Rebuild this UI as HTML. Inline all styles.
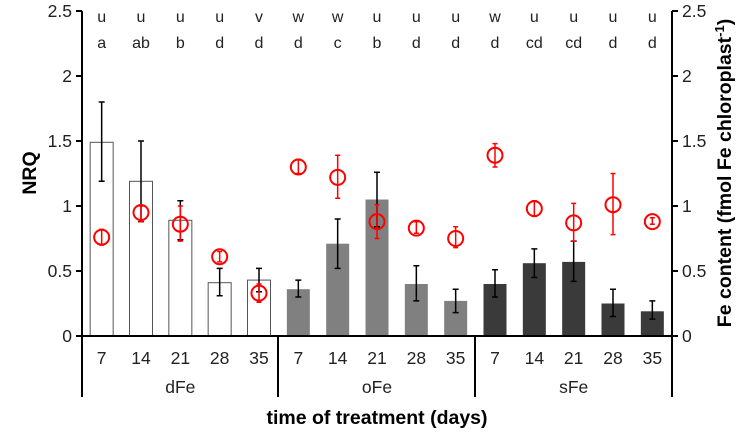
<!DOCTYPE html>
<html><head><meta charset="utf-8"><style>
body{margin:0;background:#fff;}
svg text{font-family:"Liberation Sans",Arial,sans-serif;}
</style></head><body>
<svg id="c" width="751" height="436" viewBox="0 0 751 436" xmlns="http://www.w3.org/2000/svg"></svg>
<script>
const days=["7","14","21","28","35","7","14","21","28","35","7","14","21","28","35"];
const groups=["dFe","oFe","sFe"];
const nrq=[1.49,1.19,0.89,0.41,0.43,0.36,0.71,1.05,0.40,0.27,0.40,0.56,0.57,0.25,0.19];
const nrqLo=[1.19,0.88,0.74,0.31,0.34,0.30,0.52,0.84,0.27,0.18,0.30,0.45,0.42,0.15,0.13];
const nrqHi=[1.80,1.50,1.04,0.52,0.52,0.43,0.90,1.26,0.54,0.36,0.51,0.67,0.73,0.36,0.27];
const fe=[0.76,0.95,0.86,0.61,0.33,1.30,1.22,0.88,0.83,0.75,1.39,0.98,0.87,1.01,0.88];
const feLo=[0.70,0.88,0.73,0.57,0.26,1.25,1.06,0.75,0.79,0.68,1.30,0.92,0.73,0.78,0.86];
const feHi=[0.82,1.00,1.00,0.65,0.40,1.36,1.39,1.01,0.88,0.84,1.48,1.04,1.02,1.25,0.91];
const sigTop=["u","u","u","u","v","w","w","u","u","u","w","u","u","u","u"];
const sigBot=["a","ab","b","d","d","d","c","b","d","d","d","cd","cd","d","d"];
const ticks=[0,0.5,1,1.5,2,2.5];
const tickLabels=["0","0.5","1","1.5","2","2.5"];
const NS="http://www.w3.org/2000/svg",svg=document.getElementById('c');
const L=82,R=672,Y0=336,Y1=11,slot=(R-L)/15;
const y=v=>Y0-(v/2.5)*(Y0-Y1);
const xc=i=>L+(i+0.5)*slot;
function mk(t,a,p){const e=document.createElementNS(NS,t);for(const k in a)e.setAttribute(k,a[k]);(p||svg).appendChild(e);return e;}
const fills=["#fff","#808080","#3a3a3a"];
nrq.forEach((v,i)=>{const g=Math.floor(i/5);
 const b=mk('rect',{x:xc(i)-11.5,y:y(v),width:23,height:Y0-y(v),fill:fills[g],stroke:g==0?'#555':'none','stroke-width':1});
 
 
 const e=mk('path',{d:`M${xc(i)},${y(nrqLo[i])}V${y(nrqHi[i])}M${xc(i)-3},${y(nrqLo[i])}h6M${xc(i)-3},${y(nrqHi[i])}h6`,stroke:'#000','stroke-width':1.5,fill:'none'});
 
 
});
fe.forEach((v,i)=>{
 const e=mk('path',{d:`M${xc(i)},${y(feLo[i])}V${y(feHi[i])}M${xc(i)-2.5},${y(feLo[i])}h5M${xc(i)-2.5},${y(feHi[i])}h5`,stroke:'#f00','stroke-width':1.5,fill:'none'});
 
 
 const c=mk('circle',{cx:xc(i),cy:y(v),r:7.5,fill:'none',stroke:'#f00','stroke-width':2});
 
 
});
mk('path',{d:`M${L},${Y1}V397M${L},${Y0}H${R}M${R},${Y1}V397M278,${Y0}V397M475,${Y0}V397`,stroke:'#000','stroke-width':2,fill:'none'});
ticks.forEach((t,k)=>{
 mk('path',{d:`M${L-6},${y(t)}H${L}M${R},${y(t)}H${R+6}`,stroke:'#000','stroke-width':2});
 const a=mk('text',{x:L-10,y:y(t)+6,'text-anchor':'end','font-size':17.5,fill:'#222'});a.textContent=tickLabels[k];
 
 const b=mk('text',{x:R+10,y:y(t)+6,'font-size':17.5,fill:'#222'});b.textContent=tickLabels[k];
 
});
days.forEach((d,i)=>{
 const t=mk('text',{x:xc(i),y:364,'text-anchor':'middle','font-size':17.5,fill:'#222'});t.textContent=d;
 
 const s=mk('text',{x:xc(i),y:22,'text-anchor':'middle','font-size':16,fill:'#222'});s.textContent=sigTop[i];
 
 const s2=mk('text',{x:xc(i),y:48,'text-anchor':'middle','font-size':16,fill:'#222'});s2.textContent=sigBot[i];
 
});
groups.forEach((g,k)=>{
 const t=mk('text',{x:xc(k*5+2),y:393,'text-anchor':'middle','font-size':17.5,fill:'#222'});t.textContent=g;
 
});
const xt=mk('text',{x:377,y:424,'text-anchor':'middle','font-size':19.5,'font-weight':'bold'});xt.textContent='time of treatment (days)';

const yl=mk('text',{x:0,y:0,transform:'translate(36,173) rotate(-90)','text-anchor':'middle','font-size':19.5,'font-weight':'bold'});yl.textContent='NRQ';

const yr=mk('text',{x:0,y:0,transform:'translate(731,173) rotate(-90)','text-anchor':'middle','font-size':19.5,'font-weight':'bold'});
yr.innerHTML='Fe content (fmol Fe chloroplast<tspan dy="-7" font-size="13">-1</tspan><tspan dy="7">)</tspan>';

</script>
</body></html>
